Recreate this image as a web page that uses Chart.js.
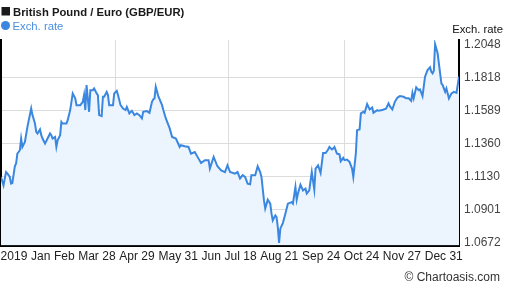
<!DOCTYPE html>
<html>
<head>
<meta charset="utf-8">
<script src="https://cdn.jsdelivr.net/npm/chart.js@4.4.1/dist/chart.umd.min.js"></script>
<style>
  html, body { margin: 0; padding: 0; background: #fff; }
  #wrap { width: 507px; height: 288px; }
</style>
</head>
<body>
<div id="wrap"><canvas id="chart" width="507" height="288"></canvas></div>
<script>
// GBP/EUR 2019, day of year (0 = Jan 1) and rate
const days = [0, 2, 4, 5, 7, 8, 9, 11, 12, 13, 15, 16, 17, 19, 21, 24, 25, 27, 28, 29,
  31, 32, 33, 35, 37, 39, 40, 41, 43, 44, 45, 47, 48, 49, 52, 53, 55, 57, 59, 60,
  63, 65, 66, 67, 68, 70, 71, 73, 74, 76, 77, 78, 80, 81, 82, 84, 85, 86, 89, 90,
  92, 93, 95, 97, 99, 100, 102, 104, 105, 106, 108, 110, 112, 113, 116, 118, 120, 121, 122, 123,
  125, 128, 129, 131, 134, 136, 139, 142, 143, 146, 149, 151, 154, 157, 159, 162, 165, 166, 169, 172,
  175, 178, 180, 182, 186, 188, 190, 192, 194, 196, 198, 199, 202, 204, 206, 207, 209, 210, 212, 214,
  215, 216, 218, 219, 220, 221, 222, 224, 226, 228, 231, 232, 234, 235, 236, 238, 240, 242, 243, 245,
  247, 249, 250, 252, 254, 256, 258, 260, 261, 263, 264, 265, 267, 269, 270, 272, 273, 275, 277, 279,
  280, 282, 283, 285, 286, 288, 289, 291, 293, 295, 296, 299, 300, 303, 304, 306, 308, 309, 311, 313,
  315, 317, 320, 322, 324, 326, 327, 328, 330, 332, 333, 335, 337, 339, 341, 342, 343, 344, 345, 347,
  348, 350, 351, 353, 354, 356, 358, 360, 362, 364];
const rates = [1.1129, 1.1071, 1.1163, 1.1154, 1.1129, 1.1083, 1.1087, 1.1203, 1.1222, 1.1291,
  1.1314, 1.1395, 1.1337, 1.1372, 1.1476, 1.1603, 1.1557, 1.1499, 1.1441, 1.1430,
  1.1458, 1.1418, 1.1395, 1.1360, 1.1395, 1.1430, 1.1418, 1.1395, 1.1406, 1.1337,
  1.1383, 1.1418, 1.1510, 1.1499, 1.1499, 1.1522, 1.1592, 1.1707, 1.1673, 1.1626,
  1.1626, 1.1649, 1.1696, 1.1592, 1.1765, 1.1580, 1.1730, 1.1730, 1.1742, 1.1707,
  1.1696, 1.1557, 1.1550, 1.1684, 1.1684, 1.1718, 1.1696, 1.1626, 1.1626, 1.1707,
  1.1725, 1.1696, 1.1626, 1.1603, 1.1592, 1.1614, 1.1569, 1.1587, 1.1573, 1.1557,
  1.1569, 1.1557, 1.1534, 1.1580, 1.1585, 1.1573, 1.1649, 1.1666, 1.1673, 1.1753,
  1.1689, 1.1626, 1.1592, 1.1534, 1.1467, 1.1406, 1.1395, 1.1337, 1.1349, 1.1342,
  1.1337, 1.1291, 1.1302, 1.1256, 1.1226, 1.1245, 1.1245, 1.1187, 1.1268, 1.1203,
  1.1175, 1.1163, 1.1210, 1.1163, 1.1152, 1.1163, 1.1118, 1.1141, 1.1129, 1.1083,
  1.1078, 1.1141, 1.1141, 1.1203, 1.1163, 1.1129, 1.0967, 1.0910, 1.0972, 1.0944,
  1.0875, 1.0828, 1.0863, 1.0851, 1.0782, 1.0672, 1.0771, 1.0810, 1.0875, 1.0944,
  1.0955, 1.0944, 1.1059, 1.0972, 1.1014, 1.1076, 1.1036, 1.1048, 1.1014, 1.1036,
  1.1163, 1.1041, 1.1187, 1.1210, 1.1157, 1.1295, 1.1295, 1.1319, 1.1337, 1.1319,
  1.1326, 1.1337, 1.1291, 1.1286, 1.1238, 1.1261, 1.1245, 1.1249, 1.1233, 1.1187,
  1.1129, 1.1291, 1.1453, 1.1458, 1.1569, 1.1580, 1.1573, 1.1633, 1.1596, 1.1610,
  1.1573, 1.1592, 1.1587, 1.1592, 1.1596, 1.1601, 1.1638, 1.1619, 1.1596, 1.1649,
  1.1677, 1.1689, 1.1684, 1.1673, 1.1673, 1.1656, 1.1711, 1.1673, 1.1749, 1.1730,
  1.1735, 1.1689, 1.1823, 1.1869, 1.1888, 1.1857, 1.1846, 1.1864, 1.2048, 1.1985,
  1.1915, 1.1777, 1.1765, 1.1718, 1.1742, 1.1673, 1.1707, 1.1718, 1.1711, 1.1823];

const yTicks = [1.0672, 1.0901, 1.1130, 1.1360, 1.1589, 1.1818, 1.2048];
const xTickLabels = ['2019', 'Jan', 'Feb', 'Mar 28', 'Apr 29', 'May 31', 'Jun', 'Jul 18',
  'Aug 21', 'Sep 24', 'Oct 24', 'Nov 27', 'Dec 31'];
const xTickDays = [10.3, 31.5, 50.3, 76.2, 108.1, 140.8, 167.1, 190.4, 221.1, 254.4, 286.5, 318.6, 351.9];
const gridDays = [91, 181, 273];

const FONT = '"Liberation Sans", Arial, sans-serif';
const BLUE = '#3b87e0';

const header = {
  id: 'header',
  afterDraw(chart) {
    const ctx = chart.ctx;
    ctx.save();
    ctx.textBaseline = 'alphabetic';
    // title
    ctx.fillStyle = '#1a1a1a';
    ctx.fillRect(1.5, 7, 8.5, 8.5);
    ctx.font = 'bold 11.3px ' + FONT;
    ctx.textAlign = 'left';
    ctx.fillText('British Pound / Euro (GBP/EUR)', 13, 16);
    // legend
    ctx.fillStyle = BLUE;
    ctx.beginPath();
    ctx.arc(5.5, 25.5, 4.5, 0, Math.PI * 2);
    ctx.fill();
    ctx.fillStyle = '#4a90e2';
    ctx.font = '11.3px ' + FONT;
    ctx.fillText('Exch. rate', 12.5, 29.5);
    // axis caption
    ctx.fillStyle = '#111';
    ctx.textAlign = 'right';
    ctx.fillText('Exch. rate', 503, 32.5);
    // credit
    ctx.fillStyle = '#333';
    ctx.font = '12px ' + FONT;
    ctx.fillText('\u00a9 Chartoasis.com', 500, 281);
    ctx.restore();
  }
};

new Chart(document.getElementById('chart'), {
  type: 'line',
  data: {
    datasets: [{
      label: 'Exch. rate',
      data: days.map((d, i) => ({ x: d, y: rates[i] })),
      borderColor: BLUE,
      backgroundColor: '#ecf5fe',
      borderWidth: 2,
      pointRadius: 0,
      tension: 0,
      fill: 'start'
    }]
  },
  options: {
    responsive: false,
    animation: false,
    layout: { padding: { top: 40, left: 1, right: 0, bottom: 20 } },
    plugins: { legend: { display: false }, tooltip: { enabled: false } },
    scales: {
      x: {
        type: 'linear', min: 0, max: 364, position: 'bottom',
        grid: { display: false, drawTicks: false },
        border: { display: true, color: '#000', width: 2 },
        afterBuildTicks: s => { s.ticks = xTickDays.map(v => ({ value: v })); },
        afterFit: s => { s.paddingLeft = 0; s.paddingRight = 0; },
        ticks: {
          autoSkip: false, maxRotation: 0, padding: 4,
          color: '#222', font: { size: 12, family: FONT },
          callback: (v, i) => xTickLabels[i]
        }
      },
      x2: {
        type: 'linear', min: 0, max: 364, position: 'top',
        grid: { color: '#dcdcdc', lineWidth: 1, drawTicks: false },
        border: { display: false },
        afterBuildTicks: s => { s.ticks = gridDays.map(v => ({ value: v })); },
        ticks: { display: false }
      },
      y: {
        position: 'right', min: 1.0654, max: 1.2077,
        afterBuildTicks: s => { s.ticks = yTicks.map(v => ({ value: v })); },
        afterFit: s => { s.width = 48; },
        grid: {
          drawTicks: false, lineWidth: 1,
          color: c => (c.index === 0 || c.index === yTicks.length - 1) ? 'rgba(0,0,0,0)' : '#dcdcdc'
        },
        border: { display: true, color: '#000', width: 2 },
        ticks: {
          padding: 5, color: '#444', font: { size: 12, family: FONT },
          callback: v => v.toFixed(4)
        }
      },
      yl: {
        axis: 'y', position: 'left',
        grid: { display: false, drawTicks: false },
        border: { display: true, color: '#000', width: 2 },
        ticks: { display: false }
      }
    }
  },
  plugins: [header]
});
</script>
</body>
</html>
